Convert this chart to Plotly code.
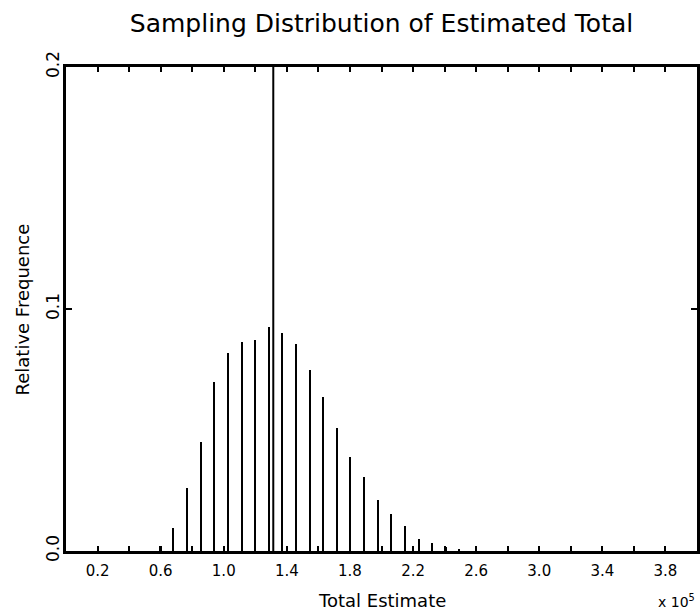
import plotly.graph_objects as go

# Data
bin_centers = [59500, 68100, 76800, 85400, 94000, 102600, 111300, 119900, 128500,
               137200, 145800, 154400, 163100, 171700, 180300, 189000, 197600,
               206200, 214900, 223500, 232100, 240800, 249400]
rel_freq = [0.002, 0.0095, 0.026, 0.045, 0.070, 0.082, 0.0864, 0.0872, 0.0926,
            0.090, 0.0855, 0.075, 0.0636, 0.0508, 0.0388, 0.0306, 0.0211,
            0.0153, 0.0103, 0.005, 0.0033, 0.0015, 0.0010]
true_total = 131400

x_tickvals = [20000, 60000, 100000, 140000, 180000, 220000, 260000, 300000, 340000, 380000]
x_ticktext = ["0.2", "0.6", "1.0", "1.4", "1.8", "2.2", "2.6", "3.0", "3.4", "3.8"]
y_tickvals = [0.0, 0.1, 0.2]
y_ticktext = ["0.0", "0.1", "0.2"]

FONT = "DejaVu Sans"

fig = go.Figure()
fig.add_trace(go.Bar(x=bin_centers, y=rel_freq, width=1300,
                     marker=dict(color="black", line=dict(width=0)),
                     showlegend=False, hoverinfo="skip"))
fig.add_shape(type="line", xref="x", yref="y", x0=true_total, x1=true_total,
              y0=0, y1=0.2, line=dict(color="black", width=2))

fig.update_layout(
    width=700, height=613,
    margin=dict(l=66, r=3, t=67, b=62, autoexpand=False),
    paper_bgcolor="white", plot_bgcolor="white",
    font=dict(family=FONT, color="black"),
    title=dict(text="Sampling Distribution of Estimated Total",
               x=0.545, xanchor="center", y=0.962, yanchor="middle",
               font=dict(size=25, family=FONT, color="black")),
    bargap=0,
)
fig.update_xaxes(
    range=[0, 400000], showgrid=False, zeroline=False, automargin=False,
    showline=True, linewidth=3, linecolor="black", mirror="ticks",
    ticks="inside", ticklen=5, tickwidth=2, tickcolor="black",
    tickmode="array", tickvals=x_tickvals, ticktext=x_ticktext,
    minor=dict(ticks="inside", tick0=0, dtick=20000, ticklen=5, tickwidth=2,
               tickcolor="black", showgrid=False),
    tickfont=dict(size=15, family=FONT), ticklabelstandoff=4,
)
fig.update_yaxes(
    range=[0, 0.2], showgrid=False, zeroline=False, automargin=False,
    showline=True, linewidth=3, linecolor="black", mirror="ticks",
    ticks="inside", ticklen=6, tickwidth=2, tickcolor="black",
    tickmode="array", tickvals=y_tickvals, ticktext=y_ticktext,
    tickangle=-90, tickfont=dict(size=17, family=FONT), ticklabelstandoff=-3,
)
fig.add_annotation(text="Total Estimate", xref="paper", yref="paper",
                   x=0.5, y=-0.103, xanchor="center", yanchor="middle",
                   showarrow=False, font=dict(size=18, family=FONT, color="black"))
fig.add_annotation(text="Relative Frequence", xref="paper", yref="paper",
                   x=-0.069, y=0.5, xanchor="center", yanchor="middle", textangle=-90,
                   showarrow=False, font=dict(size=18, family=FONT, color="black"))
fig.add_annotation(text="x 10<sup>5</sup>", xref="paper", yref="paper",
                   x=1.0, y=-0.103, xanchor="right", yanchor="middle",
                   showarrow=False, font=dict(size=14, family=FONT, color="black"))

fig.write_html("out.html", config={"displayModeBar": False},
               post_script="document.body.style.margin='0';document.body.style.overflow='hidden';")
